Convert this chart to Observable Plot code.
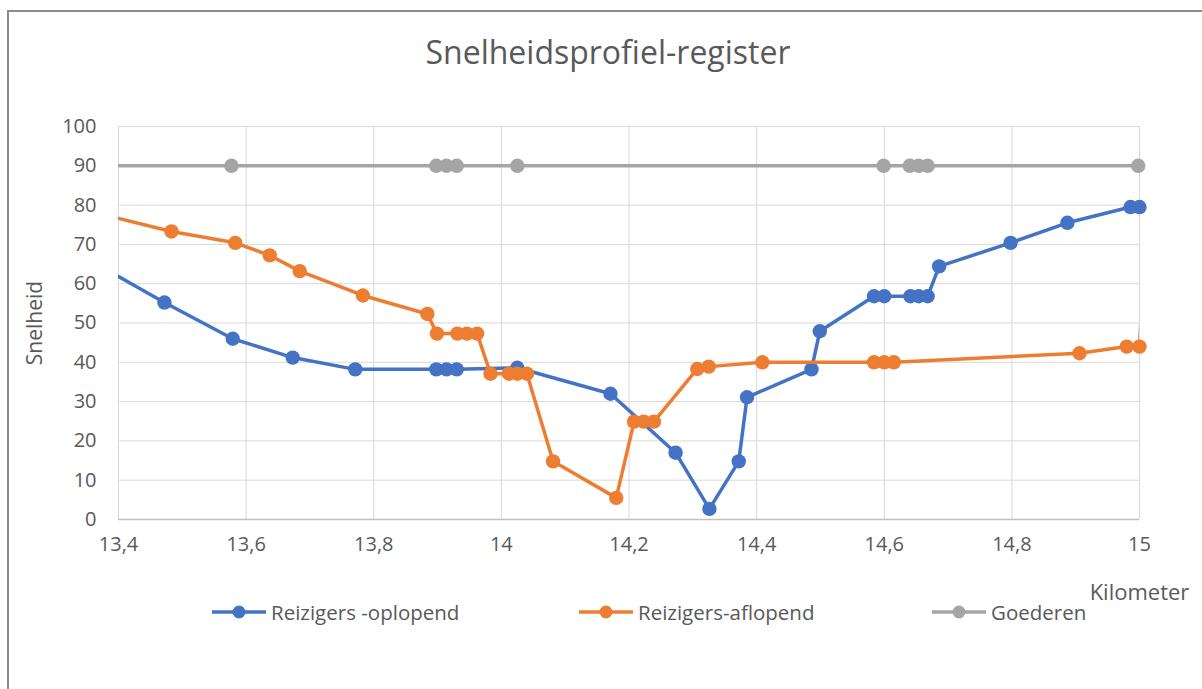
<!DOCTYPE html>
<html>
<head>
<meta charset="utf-8">
<script src="https://cdn.jsdelivr.net/npm/d3@7"></script>
<script src="https://cdn.jsdelivr.net/npm/@observablehq/plot@0.6"></script>
<style>
  html, body { margin: 0; padding: 0; background: #fff; }
  body { width: 1202px; height: 689px; position: relative; overflow: hidden; font-family: "Open Sans", sans-serif; color: #595959; }
  #frame { position: absolute; left: 7px; top: 10px; width: 1300px; height: 800px; border-left: 2px solid #8c8c8c; border-top: 2px solid #8c8c8c; }
  #title { position: absolute; top: 30px; left: 0; width: 1216px; text-align: center; font-size: 32px; line-height: 44px; color: #595959; }
  #chart { position: absolute; left: 0; top: 100px; }
  .leg { position: absolute; top: 597px; font-size: 20.5px; color: #595959; display: flex; align-items: center; white-space: nowrap; }
  .leg svg { margin-right: 5px; }
</style>
</head>
<body>
<div id="frame"></div>
<div id="title">Snelheidsprofiel-register</div>
<div id="chart"></div>
<div id="legend"></div>
<script>
// ---- data ----
const seriesNames = ["Reizigers -oplopend", "Reizigers-aflopend", "Goederen"];
const seriesColors = ["#4472C4", "#ED7D31", "#A5A5A5"];

const oplopendKm = [13.3, 13.472, 13.579, 13.673, 13.771, 13.898, 13.914, 13.930, 14.025, 14.171, 14.273, 14.326, 14.372, 14.385, 14.486, 14.499, 14.584, 14.600, 14.641, 14.654, 14.668, 14.686, 14.798, 14.887, 14.986, 15.000];
const oplopendV  = [71,   55.2,   46,     41.2,   38.2,   38.2,   38.2,   38.2,   38.6,   32,     17,     2.7,    14.8,   31.1,   38.2,   47.9,   56.8,   56.8,   56.8,   56.8,   56.8,   64.4,   70.4,   75.5,   79.5,   79.5];

const aflopendKm = [13.3, 13.483, 13.583, 13.637, 13.684, 13.783, 13.884, 13.899, 13.931, 13.946, 13.962, 13.983, 14.012, 14.025, 14.040, 14.081, 14.180, 14.208, 14.223, 14.239, 14.307, 14.325, 14.409, 14.584, 14.600, 14.615, 14.906, 14.980, 15.000, 15.01];
const aflopendV  = [80.6, 73.3,   70.4,   67.2,   63.2,   57,     52.3,   47.3,   47.3,   47.3,   47.3,   37.1,   37.1,   37.1,   37.1,   14.8,   5.5,    24.9,   24.9,   24.9,   38.3,   38.9,   40,     40,     40,     40,     42.3,   44,     44,     75];

const goederenKm = [13.3, 13.577, 13.898, 13.914, 13.930, 14.025, 14.599, 14.640, 14.654, 14.668, 14.998];
const goederenV  = [90,   90,     90,     90,     90,     90,     90,     90,     90,     90,     90];

const xTicks = [13.4, 13.6, 13.8, 14.0, 14.2, 14.4, 14.6, 14.8, 15.0];
const xTickLabels = ["13,4", "13,6", "13,8", "14", "14,2", "14,4", "14,6", "14,8", "15"];
const yTicks = [0, 10, 20, 30, 40, 50, 60, 70, 80, 90, 100];
const xDomain = [13.4, 15.0];
const yDomain = [0, 100];

// ---- build table ----
function rows(kms, vs, name) { return kms.map((k, i) => ({km: k, v: vs[i], series: name})); }
const data = [
  ...rows(oplopendKm, oplopendV, seriesNames[0]),
  ...rows(aflopendKm, aflopendV, seriesNames[1]),
  ...rows(goederenKm, goederenV, seriesNames[2])
];
const inDomain = d => d.km >= xDomain[0] - 1e-9 && d.km <= xDomain[1] + 1e-9;
const order = [seriesNames[2], seriesNames[0], seriesNames[1]];

const marks = [
  Plot.gridY(yTicks, {stroke: "#d9d9d9", strokeOpacity: 1, strokeWidth: 1}),
  Plot.gridX(xTicks, {stroke: "#d9d9d9", strokeOpacity: 1, strokeWidth: 1}),
  Plot.ruleY([0], {stroke: "#bfbfbf", strokeWidth: 1.5}),
  Plot.axisX({ticks: xTicks, tickFormat: d => xTickLabels[xTicks.indexOf(d)], tickSize: 0, tickPadding: 17, label: null, fontSize: 20}),
  Plot.axisY({ticks: yTicks, tickSize: 0, tickPadding: 22, label: null, fontSize: 20}),
  Plot.text(["Snelheid"], {frameAnchor: "left", dx: -83, rotate: -90, fontSize: 21, fill: "#595959", textAnchor: "middle"}),
  Plot.text(["Kilometer"], {frameAnchor: "bottom-right", dy: 80, fontSize: 22, fill: "#595959", textAnchor: "middle"})
];
for (const name of order) {
  const d = data.filter(r => r.series === name);
  const c = seriesColors[seriesNames.indexOf(name)];
  marks.push(Plot.line(d, {x: "km", y: "v", stroke: c, strokeWidth: 3.5, clip: true}));
  marks.push(Plot.dot(d.filter(inDomain), {x: "km", y: "v", r: 7.2, fill: c, stroke: "none"}));
}

const chart = Plot.plot({
  width: 1202,
  height: 500,
  marginLeft: 118,
  marginRight: 63,
  marginTop: 26,
  marginBottom: 81,
  x: {domain: xDomain},
  y: {domain: yDomain},
  style: {fontFamily: "'Open Sans', sans-serif", color: "#595959", background: "transparent", overflow: "visible"},
  marks
});
document.getElementById("chart").appendChild(chart);

// ---- legend ----
const legendLeft = [212, 579, 932];
const legend = document.getElementById("legend");
seriesNames.forEach((name, i) => {
  const item = document.createElement("div");
  item.className = "leg";
  item.style.left = legendLeft[i] + "px";
  item.innerHTML = `<svg width="54" height="30"><line x1="0" y1="15" x2="54" y2="15" stroke="${seriesColors[i]}" stroke-width="3.5"/><circle cx="27" cy="15" r="6.5" fill="${seriesColors[i]}"/></svg><span>${name}</span>`;
  legend.appendChild(item);
});
</script>
</body>
</html>
